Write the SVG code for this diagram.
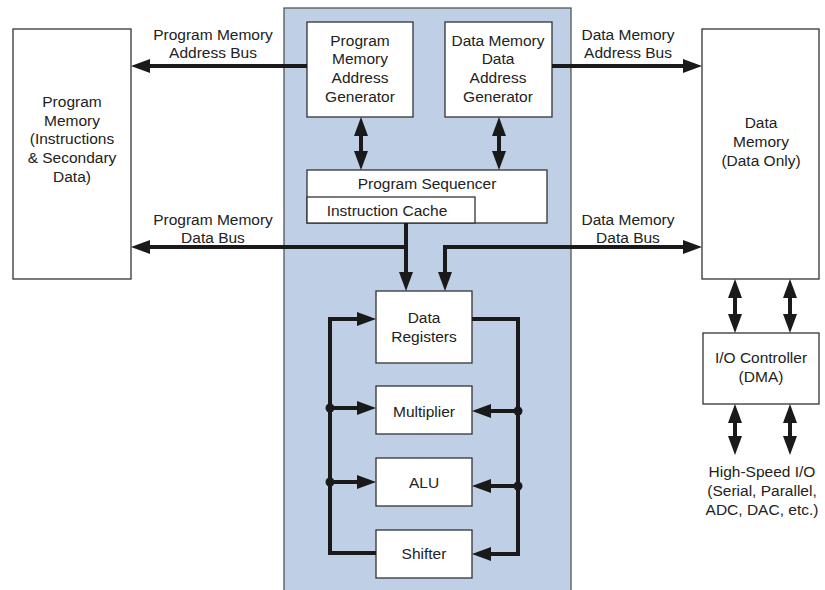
<svg xmlns="http://www.w3.org/2000/svg" width="825" height="590" viewBox="0 0 825 590">
<defs>
<marker id="ah" markerUnits="userSpaceOnUse" markerWidth="20" markerHeight="16" refX="9" refY="7" orient="auto-start-reverse" overflow="visible">
<path d="M0,0 L19,7 L0,14 Z" fill="#1a1a1a"/>
</marker>
</defs>
<style>
.box{fill:#fff;stroke:#333;stroke-width:1.3}
.panel{fill:#bfd0e6;stroke:#555;stroke-width:1.3}
text{font-family:"Liberation Sans",Arial,sans-serif;font-size:15.5px;fill:#222;text-anchor:middle}
.w{fill:none;stroke:#1a1a1a;stroke-width:4;stroke-linejoin:miter}
.a{marker-end:url(#ah)}
.d{marker-start:url(#ah);marker-end:url(#ah)}
.dot{fill:#1a1a1a}
</style>
<rect width="825" height="590" fill="#fff"/>
<g id="processor">
<rect class="panel" x="284" y="8" width="287" height="590"/>
</g>
<g id="program-memory">
<rect class="box" x="13" y="29" width="118" height="250"/>
<text x="72" y="107">Program</text>
<text x="72" y="126">Memory</text>
<text x="72" y="144">(Instructions</text>
<text x="72" y="163">&amp; Secondary</text>
<text x="72" y="182">Data)</text>
</g>
<g id="data-memory">
<rect class="box" x="702" y="29" width="117" height="250"/>
<text x="761" y="128">Data</text>
<text x="761" y="147">Memory</text>
<text x="761" y="166">(Data Only)</text>
</g>
<g id="pmag">
<rect class="box" x="307" y="22" width="106" height="95"/>
<text x="360" y="46">Program</text>
<text x="360" y="64">Memory</text>
<text x="360" y="83">Address</text>
<text x="360" y="102">Generator</text>
</g>
<g id="dmdag">
<rect class="box" x="445" y="22" width="107" height="95"/>
<text x="498" y="46">Data Memory</text>
<text x="498" y="64">Data</text>
<text x="498" y="83">Address</text>
<text x="498" y="102">Generator</text>
</g>
<g id="program-sequencer">
<rect class="box" x="307" y="170" width="240" height="53"/>
<text x="427" y="189">Program Sequencer</text>
</g>
<g id="instruction-cache">
<rect class="box" x="307" y="197" width="168" height="26"/>
<text x="387" y="216">Instruction Cache</text>
</g>
<g id="data-registers">
<rect class="box" x="376" y="291" width="96" height="72"/>
<text x="424" y="323">Data</text>
<text x="424" y="342">Registers</text>
</g>
<g id="multiplier">
<rect class="box" x="376" y="386" width="96" height="48"/>
<text x="424" y="417">Multiplier</text>
</g>
<g id="alu">
<rect class="box" x="376" y="458" width="96" height="48"/>
<text x="424" y="488">ALU</text>
</g>
<g id="shifter">
<rect class="box" x="376" y="530" width="96" height="48"/>
<text x="424" y="559">Shifter</text>
</g>
<g id="io-controller">
<rect class="box" x="703" y="333" width="116" height="71"/>
<text x="761" y="363">I/O Controller</text>
<text x="761" y="382">(DMA)</text>
</g>
<g id="high-speed-io">
<text x="762" y="477">High-Speed I/O</text>
<text x="762" y="496">(Serial, Parallel,</text>
<text x="762" y="515">ADC, DAC, etc.)</text>
</g>
<g id="connectors">
<path class="w a" d="M307,66 H141"/>
<path class="w a" d="M406,247 H141"/>
<path class="w a" d="M406,223 V281"/>
<path class="w a" d="M552,66 H692"/>
<path class="w d" d="M445,281 V247 H692"/>
<path class="w d" d="M361,127 V160"/>
<path class="w d" d="M499,127 V160"/>
<path class="w a" d="M376,553 H330 V319 H366"/>
<path class="w a" d="M330,408 H366"/>
<path class="w a" d="M330,482 H366"/>
<circle class="dot" cx="330" cy="408" r="4.5"/>
<circle class="dot" cx="330" cy="482" r="4.5"/>
<path class="w a" d="M472,319 H518 V554 H482"/>
<path class="w a" d="M518,411 H482"/>
<path class="w a" d="M518,486 H482"/>
<circle class="dot" cx="518" cy="411" r="4.5"/>
<circle class="dot" cx="518" cy="486" r="4.5"/>
<path class="w d" d="M735,289 V323"/>
<path class="w d" d="M790,289 V323"/>
<path class="w d" d="M735,414 V445"/>
<path class="w d" d="M790,414 V445"/>
<text x="213" y="40">Program Memory</text>
<text x="213" y="58">Address Bus</text>
<text x="213" y="225">Program Memory</text>
<text x="213" y="243">Data Bus</text>
<text x="628" y="40">Data Memory</text>
<text x="628" y="58">Address Bus</text>
<text x="628" y="225">Data Memory</text>
<text x="628" y="243">Data Bus</text>
</g>
</svg>
